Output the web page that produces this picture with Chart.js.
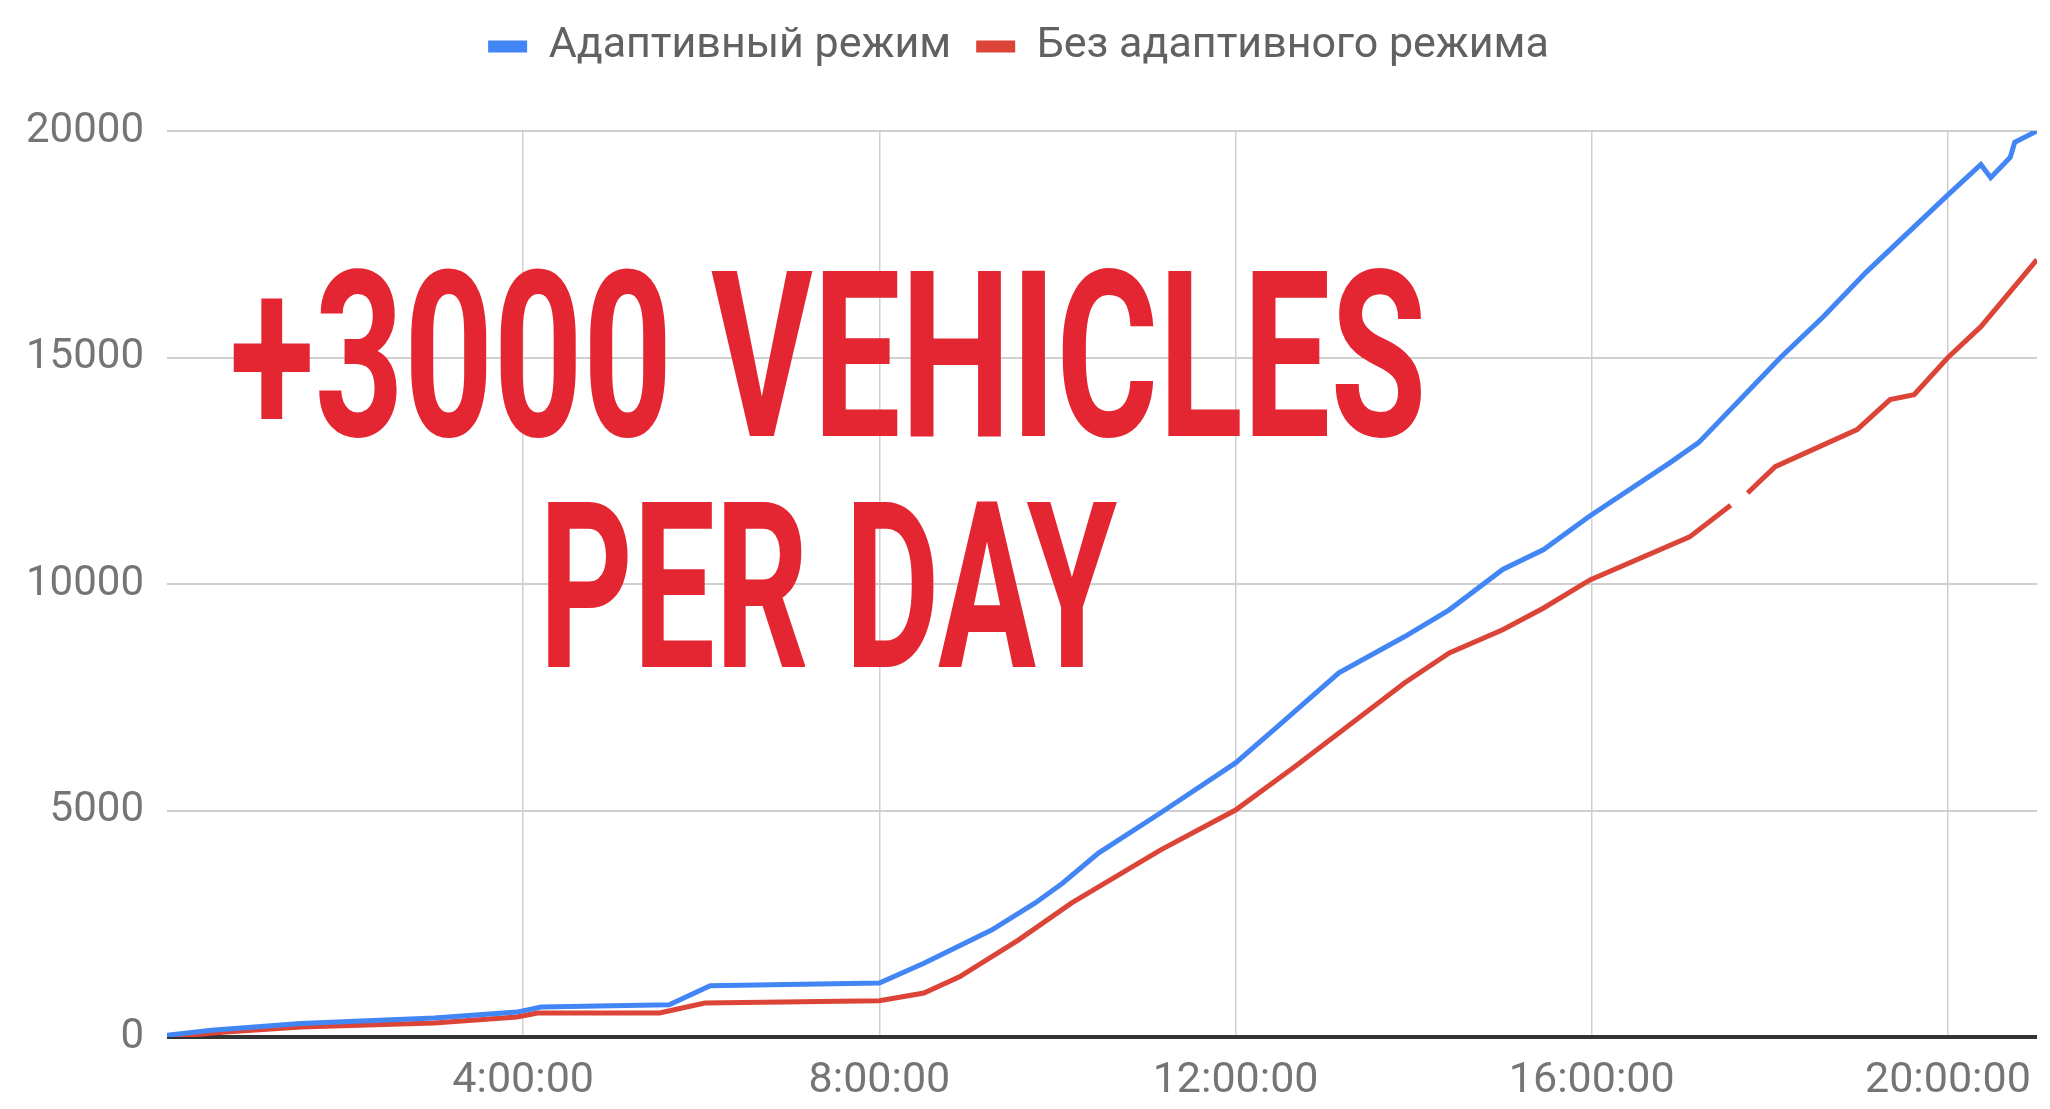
<!DOCTYPE html>
<html lang="ru">
<head>
<meta charset="utf-8">
<title>Адаптивный режим</title>
<script src="https://cdn.jsdelivr.net/npm/chart.js@4.4.1/dist/chart.umd.min.js"></script>
<style>
  html, body { margin: 0; padding: 0; background: #fff; }
  #wrap { position: relative; width: 2050px; height: 1109px; overflow: hidden; }
  #chart { position: absolute; left: 0; top: 0; }
  .promo {
    position: absolute;
    left: 828px;
    font-family: Roboto, 'Liberation Sans', sans-serif;
    font-weight: 700;
    font-size: 232px;
    line-height: 1;
    color: #e32631;
    white-space: nowrap;
    transform-origin: center;
  }
</style>
</head>
<body>
<div id="wrap">
  <canvas id="chart" width="2050" height="1109"></canvas>
  <div class="promo" id="promo1" style="top:241px">+3000 VEHICLES</div>
  <div class="promo" id="promo2" style="top:472px">PER DAY</div>
</div>
<script>
const seriesNames = ['Адаптивный режим', 'Без адаптивного режима'];

// hours since midnight / cumulative vehicles
const adaptiveHours = [0, 0.5, 1.5, 3.0, 3.93, 4.2, 5.64, 6.1, 8.0, 8.5, 9.26, 9.75, 10.06, 10.46, 11.16, 12.0, 12.47, 13.16, 13.9, 14.4, 15.0, 15.46, 15.97, 16.88, 17.2, 18.12, 18.6, 19.08, 20.0, 20.37, 20.48, 20.7, 20.75, 21.0];
const adaptiveValues = [40, 150, 300, 420, 550, 660, 710, 1130, 1190, 1630, 2360, 2960, 3400, 4060, 4950, 6050, 6850, 8040, 8840, 9430, 10320, 10760, 11490, 12680, 13120, 15000, 15900, 16880, 18590, 19260, 18970, 19420, 19750, 20000];

const baseHours = [0, 0.66, 1.5, 3.0, 3.93, 4.16, 5.53, 6.04, 8.0, 8.5, 8.9, 9.56, 10.16, 11.16, 12.0, 12.66, 13.9, 14.4, 15.0, 15.46, 15.98, 17.1, 17.56, 17.65, 17.75, 18.06, 18.98, 19.35, 19.62, 20.0, 20.37, 21.0];
const baseValues = [0, 110, 220, 310, 440, 530, 530, 750, 800, 970, 1330, 2140, 2960, 4130, 5010, 5960, 7820, 8480, 8990, 9470, 10090, 11040, 11740, null, 12010, 12590, 13410, 14070, 14180, 15000, 15680, 17160];

const xTickHours = [4, 8, 12, 16, 20];
const xTickLabels = ['4:00:00', '8:00:00', '12:00:00', '16:00:00', '20:00:00'];
const yTicks = [0, 5000, 10000, 15000, 20000];

const toPoints = (hours, values) => hours.map((h, i) => ({ x: h, y: values[i] }));

// make the legend take the whole band above the plot
const legendHeight = {
  id: 'legendHeight',
  beforeInit(chart) {
    const fit = chart.legend.fit;
    chart.legend.fit = function fitLegend() {
      fit.call(this);
      this.height = 131;
    };
  },
};

// eslint-disable-next-line no-new
new Chart(document.getElementById('chart'), {
  type: 'line',
  data: {
    datasets: [
      {
        label: seriesNames[0],
        data: toPoints(adaptiveHours, adaptiveValues),
        borderColor: '#4285f4',
        backgroundColor: '#4285f4',
        borderWidth: 5,
        pointRadius: 0,
        tension: 0,
      },
      {
        label: seriesNames[1],
        data: toPoints(baseHours, baseValues),
        borderColor: '#db4437',
        backgroundColor: '#db4437',
        borderWidth: 5,
        pointRadius: 0,
        tension: 0,
      },
    ],
  },
  options: {
    responsive: false,
    animation: false,
    layout: { padding: { top: 0, right: 13, bottom: 0, left: 0 } },
    plugins: {
      tooltip: { enabled: false },
      legend: {
        position: 'top',
        align: 'center',
        labels: {
          boxWidth: 39,
          boxHeight: 12,
          padding: 25,
          color: '#616161',
          font: { family: 'Roboto', size: 43 },
          generateLabels: (chart) => Chart.defaults.plugins.legend.labels.generateLabels(chart)
            .map((l) => ({ ...l, lineWidth: 0 })),
        },
      },
    },
    scales: {
      x: {
        type: 'linear',
        min: 0,
        max: 21,
        afterBuildTicks: (axis) => { axis.ticks = xTickHours.map((v) => ({ value: v })); },
        afterFit: (axis) => { axis.height = 72; },
        border: { display: false },
        grid: { color: '#d0d0d0', lineWidth: 1.5, drawTicks: false },
        ticks: {
          color: '#757575',
          font: { family: 'Roboto', size: 43 },
          padding: 18,
          maxRotation: 0,
          autoSkip: false,
          callback: (v, i) => xTickLabels[i],
        },
      },
      y: {
        min: 0,
        max: 20000,
        afterBuildTicks: (axis) => { axis.ticks = yTicks.map((v) => ({ value: v })); },
        afterFit: (axis) => { axis.width = 167; },
        border: { display: false },
        grid: {
          color: (ctx) => (ctx.tick && ctx.tick.value === 0 ? '#333333' : '#d0d0d0'),
          lineWidth: (ctx) => (ctx.tick && ctx.tick.value === 0 ? 4 : 2),
          drawTicks: false,
        },
        ticks: {
          color: '#757575',
          font: { family: 'Roboto', size: 42 },
          padding: 23,
          callback: (v) => String(v),
        },
      },
    },
  },
  plugins: [legendHeight],
});

// squeeze the overlay text to the condensed look of the original
const fitPromo = () => {
  [['promo1', 1197], ['promo2', 578]].forEach(([id, w]) => {
    const el = document.getElementById(id);
    const s = w / el.offsetWidth;
    el.style.transform = `translateX(-50%) scaleX(${s})`;
  });
};
fitPromo();
document.fonts.ready.then(fitPromo);
</script>
</body>
</html>
